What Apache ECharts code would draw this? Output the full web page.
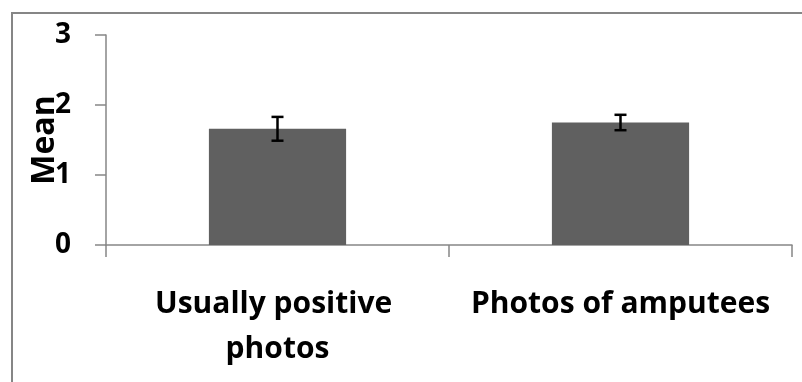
<!DOCTYPE html>
<html>
<head>
<meta charset="utf-8">
<script src="https://cdn.jsdelivr.net/npm/echarts@6/dist/echarts.min.js"></script>
<style>
  html, body { margin: 0; padding: 0; background: #fff; }
  #chart { width: 802px; height: 382px; }
</style>
</head>
<body>
<div id="chart"></div>
<script>
// datos
var categories = ['Usually positive photos', 'Photos of amputees'];
var means = [1.66, 1.75];
var errors = [0.17, 0.11];
var yTicks = [0, 1, 2, 3];

var fontFam = '"Open Sans", Lato, sans-serif';
var axisGray = '#868686';

var chart = echarts.init(document.getElementById('chart'));

var errorData = means.map(function (m, i) {
    return [i, m - errors[i], m + errors[i]];
});

var option = {
    animation: false,
    grid: { left: 106, right: 10, top: 35, bottom: 137, containLabel: false },
    graphic: [
        {
            // marco exterior (solo se ve a la izquierda y arriba)
            type: 'rect',
            shape: { x: 12, y: 13, width: 1000, height: 600 },
            style: { fill: null, stroke: axisGray, lineWidth: 2 },
            silent: true,
            z: -1
        }
    ],
    xAxis: {
        type: 'category',
        data: categories,
        axisLine: { lineStyle: { color: axisGray, width: 1.5 } },
        axisTick: { show: true, length: 12, lineStyle: { color: axisGray, width: 1.5 } },
        axisLabel: {
            margin: 37,
            interval: 0,
            color: '#000',
            fontFamily: fontFam,
            fontWeight: 'bold',
            fontSize: 30,
            lineHeight: 45,
            width: 330,
            overflow: 'break'
        }
    },
    yAxis: {
        type: 'value',
        min: 0,
        max: yTicks[yTicks.length - 1],
        interval: 1,
        name: 'Mean',
        nameLocation: 'middle',
        nameGap: 45,
        nameMoveOverlap: false,
        nameTextStyle: { color: '#000', fontFamily: fontFam, fontWeight: 'bold', fontSize: 32 },
        splitLine: { show: false },
        axisLine: { show: true, lineStyle: { color: axisGray, width: 1.5 } },
        axisTick: { show: true, length: 11, lineStyle: { color: axisGray, width: 1.5 } },
        axisLabel: {
            margin: 35,
            color: '#000',
            fontFamily: fontFam,
            fontWeight: 'bold',
            fontSize: 28
        }
    },
    series: [
        {
            type: 'bar',
            data: means,
            barWidth: '40%',
            itemStyle: { color: '#606060' },
            z: 2
        },
        {
            type: 'custom',
            data: errorData,
            z: 3,
            renderItem: function (params, api) {
                var x = api.coord([api.value(0), api.value(1)])[0];
                var lo = api.coord([api.value(0), api.value(1)])[1];
                var hi = api.coord([api.value(0), api.value(2)])[1];
                var half = 6;
                var st = { stroke: '#000', lineWidth: 2.5 };
                return {
                    type: 'group',
                    children: [
                        { type: 'line', shape: { x1: x, y1: lo, x2: x, y2: hi }, style: st },
                        { type: 'line', shape: { x1: x - half, y1: hi, x2: x + half, y2: hi }, style: st },
                        { type: 'line', shape: { x1: x - half, y1: lo, x2: x + half, y2: lo }, style: st }
                    ]
                };
            }
        }
    ]
};

chart.setOption(option);
</script>
</body>
</html>
